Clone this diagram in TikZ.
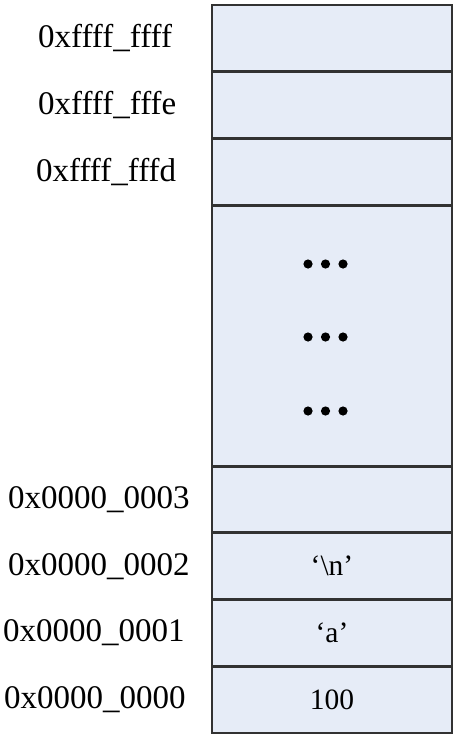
\documentclass[tikz,border=0pt]{standalone}
\usepackage{fontspec}
\setmainfont{Liberation Serif}
\usetikzlibrary{positioning}
\definecolor{cellblue}{RGB}{230,236,247}
\definecolor{cellline}{RGB}{50,50,50}
\tikzset{
  % 存储单元
  cell/.style={
    draw=cellline,
    line width=2.8pt,
    fill=cellblue,
    minimum width=240pt,
    minimum height=66.7pt,
    inner sep=0pt,
    outer sep=0pt,
    font=\fontsize{29.5}{32}\selectfont
  },
  % 省略区域
  gap/.style={cell, minimum height=261pt},
  % 地址标签
  addr/.style={font=\fontsize{33}{38}\selectfont, anchor=west, inner sep=0pt},
}

\begin{document}
\begin{tikzpicture}[x=1pt,y=-1pt]
  \useasboundingbox (0,0) rectangle (460,738);

  % Memory cells
  \node[cell] (ff) at (332,38.35) {};
  \node[cell, below=0pt of ff] (fe) {};
  \node[cell, below=0pt of fe] (fd) {};
  \node[gap, below=0pt of fd] (mid) {};
  \node[cell, below=0pt of mid] (a3) {};
  \node[cell, below=0pt of a3] (a2) {‘\textbackslash n’};
  \node[cell, below=0pt of a2] (a1) {‘a’};
  \node[cell, below=0pt of a1] (a0) {100};

  % Dots
  \foreach \y in {264,337,411}
    \foreach \x in {308,325.5,343}
      \fill (\x,\y) circle (4.6pt);

  % Addresses
  \node[addr] (lff) at (38,0 |- ff) {0xffff\_ffff};
  \node[addr] (lfe) at (38,0 |- fe) {0xffff\_fffe};
  \node[addr] (lfd) at (36,0 |- fd) {0xffff\_fffd};
  \node[addr] (la3) at (8,0 |- a3) {0x0000\_0003};
  \node[addr] (la2) at (8,0 |- a2) {0x0000\_0002};
  \node[addr] (la1) at (3,0 |- a1) {0x0000\_0001};
  \node[addr] (la0) at (4,0 |- a0) {0x0000\_0000};
\end{tikzpicture}
\end{document}
